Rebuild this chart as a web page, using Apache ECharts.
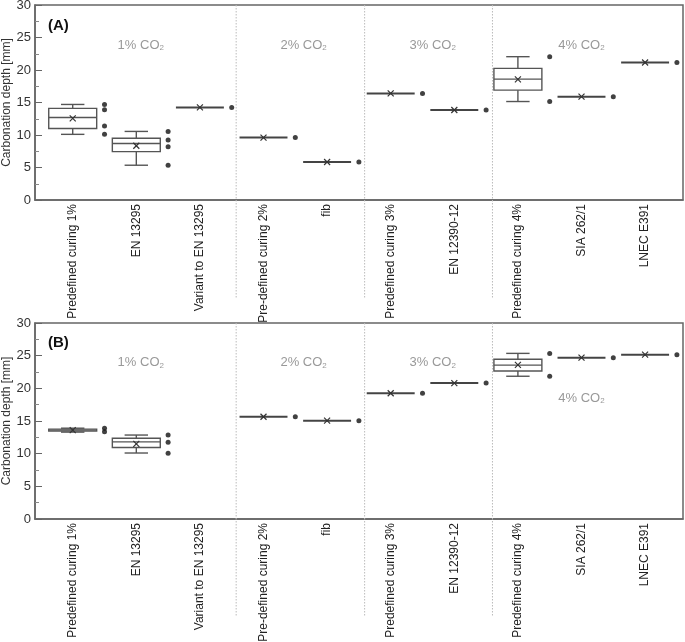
<!DOCTYPE html>
<html>
<head>
<meta charset="utf-8">
<script src="https://cdn.jsdelivr.net/npm/echarts@6/dist/echarts.min.js"></script>
<style>html,body{margin:0;padding:0;background:#fff}#c{width:685px;height:642px}</style>
</head>
<body>
<div id="c"></div>
<script>
// ---------- data ----------
const categories = ['Predefined curing 1%', 'EN 13295', 'Variant to EN 13295', 'Pre-defined curing 2%', 'fib',
  'Predefined curing 3%', 'EN 12390-12', 'Predefined curing 4%', 'SIA 262/1', 'LNEC E391'];
const yTicks = [0, 5, 10, 15, 20, 25, 30];

// box stats: [low whisker, Q1, median, Q3, high whisker]; single value = [v]
const aBoxes = [[10.1, 11.0, 12.7, 14.1, 14.7], [5.35, 7.45, 8.7, 9.5, 10.55], [14.25], [9.6], [5.85],
  [16.4], [13.85], [15.15, 16.9, 18.6, 20.25, 22.05], [15.9], [21.15]];
const aMeans = [12.55, 8.35, 14.25, 9.6, 5.85, 16.4, 13.85, 18.55, 15.9, 21.15];
const aPoints = [[14.7, 13.9, 11.4, 10.1], [10.55, 9.25, 8.2, 5.35], [14.25], [9.6], [5.85],
  [16.4], [13.85], [22.05, 15.15], [15.9], [21.15]];

const bBoxes = [[13.3, 13.45, 13.6, 13.75, 13.9], [10.1, 10.95, 11.8, 12.35, 12.85], null, [15.65], [15.05],
  [19.25], [20.8], [21.85, 22.65, 23.55, 24.45, 25.35], [24.7], [25.15]];
const bMeans = [13.6, 11.5, null, 15.65, 15.05, 19.25, 20.8, 23.6, 24.7, 25.15];
const bPoints = [[13.9, 13.35], [12.85, 11.75, 10.05], [], [15.65], [15.05],
  [19.25], [20.8], [25.35, 21.85], [24.7], [25.15]];

// group separators (in category units) and CO2 annotations
const separators = [2.57, 4.59, 6.6];
const coLabels = ['1%', '2%', '3%', '4%'];
const coX = [1.07, 3.63, 5.66, 8.0];
const aCoY = [23.85, 23.85, 23.85, 23.85];
const bCoY = [23.9, 23.9, 23.9, 18.5];
const panelNames = ['(A)', '(B)'];

// ---------- chart ----------
const FONT = '"Liberation Sans", Arial, sans-serif';
const chart = echarts.init(document.getElementById('c'), null, {renderer: 'canvas'});

function boxData(boxes, means) {
  const out = [];
  boxes.forEach((b, i) => {
    if (!b) return;
    const s = b.length === 1 ? [b[0], b[0], b[0], b[0], b[0]] : b;
    out.push([i, s[0], s[1], s[2], s[3], s[4], means[i]]);
  });
  return out;
}
function pointData(points) {
  const out = [];
  points.forEach((arr, i) => arr.forEach(v => out.push([i + 0.5, v])));
  return out;
}

const STROKE = '#555';
function renderBox(params, api) {
  const k = api.value(0);
  const p = v => api.coord([k, v]);
  const hw = api.size([0.377, 0])[0];
  const cw = api.size([0.184, 0])[0];
  const x = p(api.value(3))[0];
  const yl = p(api.value(1))[1], y1 = p(api.value(2))[1], ym = p(api.value(3))[1],
        y3 = p(api.value(4))[1], yh = p(api.value(5))[1], yMean = p(api.value(6))[1];
  const ls = {stroke: STROKE, lineWidth: 1.4, fill: null};
  const children = [];
  const single = api.value(1) === api.value(5);
  if (single) {
    children.push({type: 'line', shape: {x1: x - hw, y1: ym, x2: x + hw, y2: ym}, style: {stroke: '#444', lineWidth: 2}});
  } else {
    children.push({type: 'rect', shape: {x: x - hw, y: y3, width: 2 * hw, height: y1 - y3}, style: ls});
    children.push({type: 'line', shape: {x1: x - hw, y1: ym, x2: x + hw, y2: ym}, style: ls});
    children.push({type: 'line', shape: {x1: x, y1: y3, x2: x, y2: yh}, style: ls});
    children.push({type: 'line', shape: {x1: x, y1: y1, x2: x, y2: yl}, style: ls});
    children.push({type: 'line', shape: {x1: x - cw, y1: yh, x2: x + cw, y2: yh}, style: ls});
    children.push({type: 'line', shape: {x1: x - cw, y1: yl, x2: x + cw, y2: yl}, style: ls});
  }
  const m = 3;
  children.push({type: 'line', shape: {x1: x - m, y1: yMean - m, x2: x + m, y2: yMean + m}, style: {stroke: '#333', lineWidth: 1.2}});
  children.push({type: 'line', shape: {x1: x - m, y1: yMean + m, x2: x + m, y2: yMean - m}, style: {stroke: '#333', lineWidth: 1.2}});
  return {type: 'group', children};
}
function renderSep(params, api) {
  const sx = api.value(0);
  const top = api.coord([sx, 30]);
  const bot = api.coord([sx, 0]);
  return {type: 'line', shape: {x1: top[0], y1: top[1], x2: bot[0], y2: bot[1] + 98},
    style: {stroke: '#bbb', lineWidth: 1, lineDash: [1.5, 1.5]}};
}
function renderCo(params, api) {
  const c = api.coord([api.value(0), api.value(1)]);
  return {type: 'text', x: c[0], y: c[1], style: {
    text: coLabels[params.dataIndex] + ' CO{s|2}',
    fill: '#999', fontSize: 13, fontFamily: FONT, align: 'center', verticalAlign: 'middle',
    rich: {s: {fontSize: 8, fontFamily: FONT, fill: '#999', verticalAlign: 'bottom', padding: [5, 0, 0, 0]}}
  }};
}

const grids = [
  {left: 35, right: 2, top: 5, height: 195},
  {left: 35, right: 2, top: 323, height: 196}
].map(g => Object.assign({show: true, borderColor: '#666', borderWidth: 1.5, backgroundColor: 'transparent',
  containLabel: false, outerBoundsMode: 'none'}, g));

const xAxes = [0, 1].map(gi => ({
  type: 'value', gridIndex: gi, min: -0.593, max: 9.596,
  axisLine: {show: true, onZero: false, lineStyle: {color: '#666', width: 1.5}},
  axisTick: {show: false}, splitLine: {show: false},
  axisLabel: {
    customValues: categories.map((c, i) => i),
    formatter: v => categories[Math.round(v)] || '',
    rotate: 90, margin: 4, fontSize: 12, color: '#222', fontFamily: FONT
  }
}));
const yAxes = [0, 1].map(gi => ({
  type: 'value', gridIndex: gi, min: yTicks[0], max: yTicks[yTicks.length - 1], interval: 5,
  name: 'Carbonation depth [mm]', nameLocation: 'middle', nameGap: 22, nameMoveOverlap: false,
  nameTextStyle: {fontSize: 12, color: '#333', fontFamily: FONT},
  axisLine: {show: true, onZero: false, lineStyle: {color: '#666', width: 1.5}},
  axisTick: {show: true, inside: true, length: 7, lineStyle: {color: '#666'}},
  minorTick: {show: true, splitNumber: 2, length: 4, lineStyle: {color: '#888'}},
  splitLine: {show: false},
  axisLabel: {fontSize: 13, color: '#333', margin: 4, fontFamily: FONT}
}));

const series = [];
[[aBoxes, aMeans, aPoints, aCoY], [bBoxes, bMeans, bPoints, bCoY]].forEach((d, gi) => {
  series.push({type: 'custom', xAxisIndex: gi, yAxisIndex: gi, clip: false, silent: true,
    data: separators.map(s => [s, 0]), renderItem: renderSep, z: 1});
  series.push({type: 'custom', xAxisIndex: gi, yAxisIndex: gi, silent: true,
    data: boxData(d[0], d[1]), renderItem: renderBox, z: 3});
  series.push({type: 'scatter', xAxisIndex: gi, yAxisIndex: gi, silent: true,
    data: pointData(d[2]), symbol: 'circle', symbolSize: 5, itemStyle: {color: '#111'}, z: 4});
  series.push({type: 'custom', xAxisIndex: gi, yAxisIndex: gi, silent: true,
    data: coX.map((x, i) => [x, d[3][i]]), renderItem: renderCo, z: 2});
});

chart.setOption({
  animation: false,
  textStyle: {fontFamily: FONT},
  title: [
    {text: panelNames[0], left: 48, top: 18, padding: 0, textStyle: {fontSize: 15, fontWeight: 'bold', color: '#111', fontFamily: FONT}},
    {text: panelNames[1], left: 48, top: 335, padding: 0, textStyle: {fontSize: 15, fontWeight: 'bold', color: '#111', fontFamily: FONT}}
  ],
  grid: grids, xAxis: xAxes, yAxis: yAxes, series
});
</script>
</body>
</html>
